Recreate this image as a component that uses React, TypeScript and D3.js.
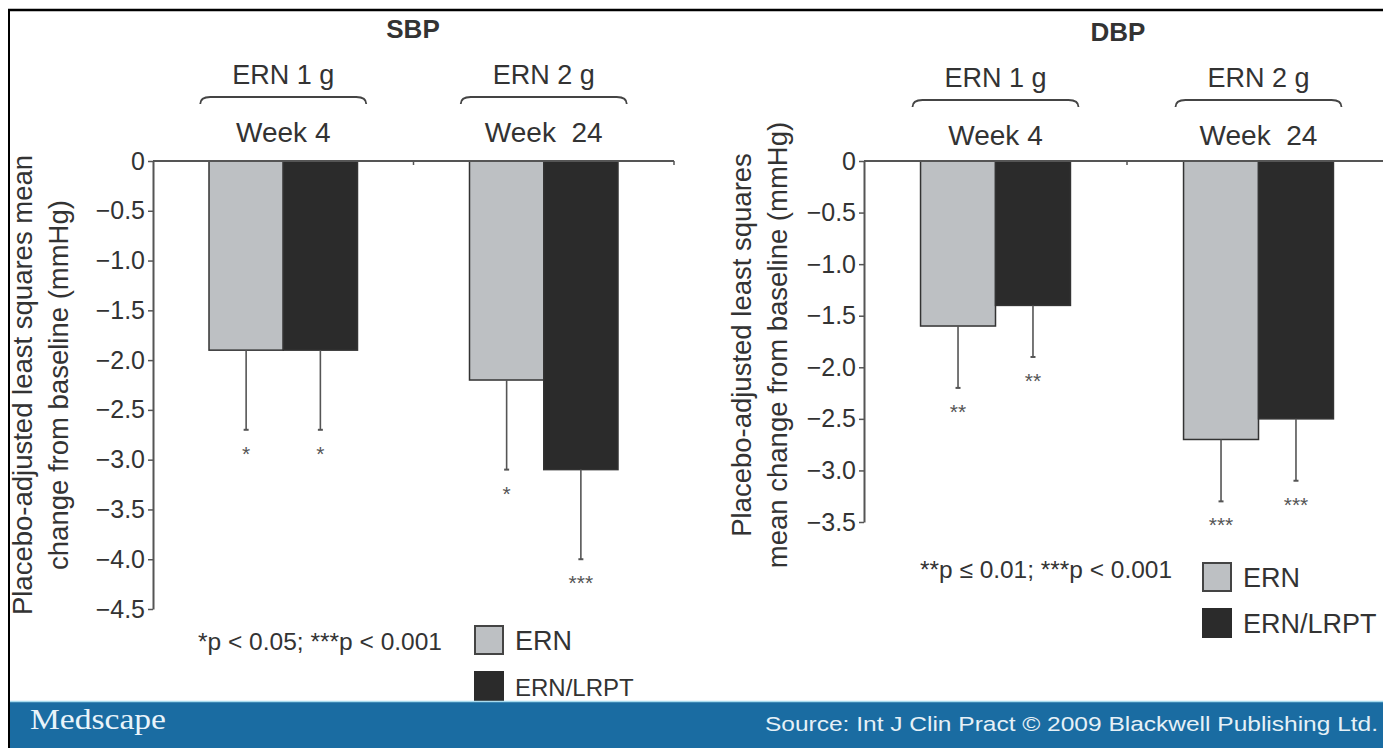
import React, { useEffect, useRef } from "react";
import * as d3 from "d3";

// groups / series
const groups = ["ERN 1 g", "ERN 2 g"];
const weeks = ["Week 4", "Week  24"];
const series = ["ERN", "ERN/LRPT"];
const seriesColors = ["#bdc0c3", "#2b2b2b"];

// SBP values (per group, per series)
const sbpMeans = [[-1.9, -1.9], [-2.2, -3.1]];
const sbpErrEnds = [[-2.7, -2.7], [-3.1, -4.0]];
const sbpStars = [["*", "*"], ["*", "***"]];
const sbpTicks = [0, -0.5, -1.0, -1.5, -2.0, -2.5, -3.0, -3.5, -4.0, -4.5];

// DBP values
const dbpMeans = [[-1.6, -1.4], [-2.7, -2.5]];
const dbpErrEnds = [[-2.2, -1.9], [-3.3, -3.1]];
const dbpStars = [["**", "**"], ["***", "***"]];
const dbpTicks = [0, -0.5, -1.0, -1.5, -2.0, -2.5, -3.0, -3.5];

const FONT = "'Liberation Sans', Arial, Helvetica, sans-serif";
const INK = "#333";
const LINE = "#555";

const YAxis = ({ y, ticks, x }) => {
  const ref = useRef(null);
  useEffect(() => {
    const g = d3.select(ref.current);
    g.call(
      d3.axisLeft(y)
        .tickValues(ticks)
        .tickSize(5)
        .tickSizeOuter(0)
        .tickPadding(3)
        .tickFormat((d) => (d === 0 ? "0" : d3.format(".1f")(d)))
    );
    g.select(".domain").attr("stroke", LINE).attr("stroke-width", 2);
    g.selectAll(".tick line").attr("stroke", LINE).attr("stroke-width", 1.5);
    g.selectAll(".tick text")
      .attr("fill", INK)
      .attr("font-size", 25)
      .attr("font-family", FONT);
  }, [y, ticks]);
  return <g ref={ref} transform={`translate(${x},0)`} />;
};

const Panel = ({ cfg }) => {
  const y = d3.scaleLinear().domain([0, cfg.min]).range([161, cfg.bottom]);
  const x0 = d3.scaleBand().domain(groups).range([cfg.axisX, cfg.endX]);
  const pairW = x0.bandwidth() * 0.57;
  const x1 = d3.scaleBand().domain(series).range([0, pairW]);
  const off = (x0.bandwidth() - pairW) / 2;
  const dy = cfg.hdrDy;

  return (
    <g>
      <text x={cfg.titleX} y={38 + dy} textAnchor="middle" fontFamily={FONT} fontWeight="bold" fontSize={26} fill={INK}>
        {cfg.title}
      </text>
      {groups.map((gname, gi) => {
        const cx = x0(gname) + x0.bandwidth() / 2;
        const bx1 = cx - 83;
        const bx2 = cx + 83;
        const by = 97 + dy;
        return (
          <g key={gname}>
            <text x={cx} y={84 + dy} textAnchor="middle" fontFamily={FONT} fontSize={27} fill={INK}>
              {gname}
            </text>
            <path
              d={`M${bx1},${by + 7} Q${bx1},${by} ${bx1 + 10},${by} L${bx2 - 10},${by} Q${bx2},${by} ${bx2},${by + 7}`}
              fill="none"
              stroke="#444"
              strokeWidth={1.8}
            />
            <text x={cx} y={142 + dy} textAnchor="middle" fontFamily={FONT} fontSize={28} fill={INK} style={{ whiteSpace: "pre" }}>
              {weeks[gi]}
            </text>
          </g>
        );
      })}

      {/* bars */}
      {groups.map((gname, gi) =>
        series.map((s, si) => {
          const bx = x0(gname) + off + x1(s);
          const v = cfg.means[gi][si];
          const e = cfg.errs[gi][si];
          const mx = bx + x1.bandwidth() / 2;
          return (
            <g key={gname + s}>
              <rect x={bx} y={y(0)} width={x1.bandwidth()} height={y(v) - y(0)} fill={seriesColors[si]} stroke="#333" strokeWidth={1.5} />
              <line x1={mx} x2={mx} y1={y(v)} y2={y(e)} stroke={LINE} strokeWidth={1.6} />
              <line x1={mx - 2.5} x2={mx + 2.5} y1={y(e)} y2={y(e)} stroke={LINE} strokeWidth={2} />
              <text x={mx} y={y(e) + 31} textAnchor="middle" fontFamily={FONT} fontSize={21} fill={LINE}>
                {cfg.stars[gi][si]}
              </text>
            </g>
          );
        })
      )}

      {/* zero baseline with group ticks */}
      <line x1={cfg.axisX} x2={cfg.lineEnd} y1={y(0)} y2={y(0)} stroke={LINE} strokeWidth={1.8} />
      {groups.slice(1).map((gname) => (
        <line key={gname} x1={x0(gname)} x2={x0(gname)} y1={y(0)} y2={y(0) + 4} stroke={LINE} strokeWidth={1.5} />
      ))}
      <line x1={cfg.endX} x2={cfg.endX} y1={y(0)} y2={y(0) + 4} stroke={LINE} strokeWidth={1.5} />

      <YAxis y={y} ticks={cfg.ticks} x={cfg.axisX} />

      {/* y title */}
      {cfg.yTitle.map((t, i) => (
        <text
          key={i}
          transform={`translate(${cfg.yTitleX[i]},${cfg.yTitleCy}) rotate(-90)`}
          textAnchor="middle"
          fontFamily={FONT}
          fontSize={27.5}
          fill={INK}
        >
          {t}
        </text>
      ))}

      {/* note */}
      <text x={cfg.noteX} y={cfg.noteY} fontFamily={FONT} fontSize={24} fill={INK} textLength={cfg.noteW} lengthAdjust="spacingAndGlyphs">
        {cfg.note}
      </text>

      {/* legend */}
      {series.map((s, si) => (
        <g key={s}>
          <rect
            x={cfg.legX}
            y={cfg.legY[si]}
            width={28}
            height={28}
            fill={seriesColors[si]}
            stroke={si === 0 ? "#444" : seriesColors[si]}
            strokeWidth={2}
          />
          <text x={cfg.legX + 40} y={cfg.legY[si] + 24} fontFamily={FONT} fontSize={cfg.legFont[si]} fill={INK}>
            {s}
          </text>
        </g>
      ))}
    </g>
  );
};

const sbpCfg = {
  title: "SBP",
  means: sbpMeans,
  errs: sbpErrEnds,
  stars: sbpStars,
  ticks: sbpTicks,
  min: -4.5,
  bottom: 609,
  axisX: 153,
  endX: 674,
  lineEnd: 674,
  hdrDy: 0,
  titleX: 413,
  yTitle: ["Placebo-adjusted least squares mean", "change from baseline (mmHg)"],
  yTitleX: [32, 68],
  yTitleCy: 385,
  note: "*p < 0.05; ***p < 0.001",
  noteX: 198,
  noteY: 650,
  noteW: 244,
  legX: 475,
  legY: [626, 672],
  legFont: [27, 24],
};

const dbpCfg = {
  title: "DBP",
  means: dbpMeans,
  errs: dbpErrEnds,
  stars: dbpStars,
  ticks: dbpTicks,
  min: -3.5,
  bottom: 522,
  axisX: 864,
  endX: 1390,
  lineEnd: 1383,
  hdrDy: 3,
  titleX: 1118,
  yTitle: ["Placebo-adjusted least squares", "mean change from baseline (mmHg)"],
  yTitleX: [751, 787],
  yTitleCy: 345,
  note: "**p \u2264 0.01; ***p < 0.001",
  noteX: 920,
  noteY: 578,
  noteW: 252,
  legX: 1203,
  legY: [563, 609],
  legFont: [27, 27],
};

export default function App() {
  const W = 1383;
  const H = 748;
  return (
    <svg
      width={W}
      height={H}
      style={{ position: "absolute", left: 0, top: 0, display: "block", background: "#fff" }}
    >
      <rect x={0} y={0} width={W} height={H} fill="#fff" />
      <Panel cfg={sbpCfg} />
      <Panel cfg={dbpCfg} />

      {/* footer band */}
      <rect x={8} y={701} width={W - 8} height={H - 701} fill="#1a6ca2" />
      <line x1={8} x2={W} y1={701.5} y2={701.5} stroke="#a8dcef" strokeWidth={1.5} />
      <text x={30} y={729} fontFamily="'Liberation Serif', 'Times New Roman', serif" fontSize={30} fill="#e9f4fa" textLength={136} lengthAdjust="spacingAndGlyphs">
        Medscape
      </text>
      <text x={765} y={731} fontFamily={FONT} fontSize={21} fill="#e6f1f7" textLength={613} lengthAdjust="spacingAndGlyphs">
        Source: Int J Clin Pract © 2009 Blackwell Publishing Ltd.
      </text>

      {/* frame */}
      <line x1={8} x2={W} y1={10} y2={10} stroke="#000" strokeWidth={2.5} />
      <line x1={9} x2={9} y1={9} y2={H} stroke="#000" strokeWidth={2} />
    </svg>
  );
}
